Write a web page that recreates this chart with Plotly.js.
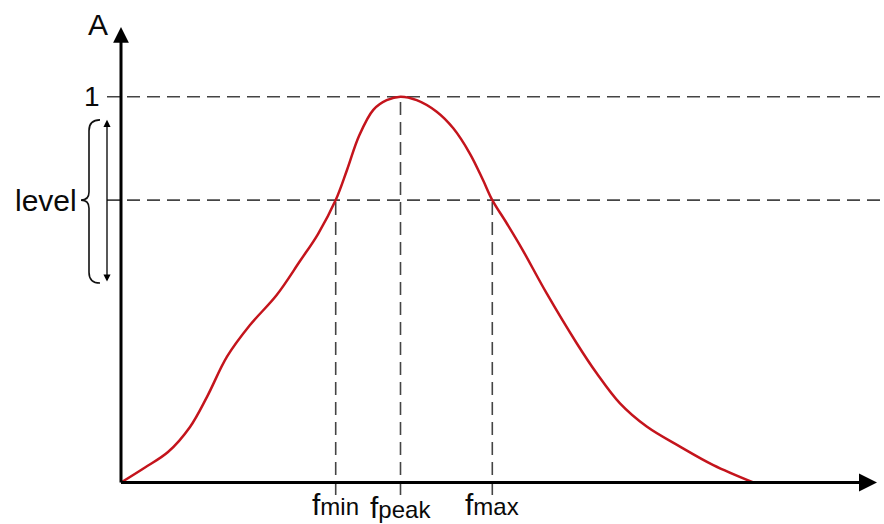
<!DOCTYPE html>
<html>
<head>
<meta charset="utf-8">
<script src="https://cdn.plot.ly/plotly-3.0.1.min.js"></script>
<style>html,body{margin:0;padding:0;background:#fff;}#chart{width:884px;height:524px;}</style>
</head>
<body>
<div id="chart"></div>
<script>
// ---- data ----
const freq = [0, 2.4, 4.7, 6.9, 8.6, 10.6, 12.9, 15.57, 17.9, 19.7, 21.47, 22.6, 23.8, 25.23, 26.57, 27.95, 29.57, 31.57, 33.23, 34.9, 36.2, 37.13, 38.57, 40.07, 42.57, 45.57, 47.57, 49.9, 52.57, 55.9, 59.23, 63.23];
const amp  = [0, 0.039, 0.079, 0.144, 0.222, 0.326, 0.408, 0.486, 0.574, 0.644, 0.732, 0.810, 0.898, 0.966, 0.991, 1.0, 0.991, 0.961, 0.918, 0.852, 0.784, 0.732, 0.672, 0.607, 0.490, 0.361, 0.283, 0.205, 0.145, 0.093, 0.045, 0];
const peakAmp = 1;
const level = 0.732;
const levelBand = [0.517, 0.94];
const fMin = 21.47, fPeak = 27.95, fMax = 37.13;
const xMarks = [fMin, fPeak, fMax];
const xMarkLabels = ['f<span style="font-size:24px">min</span>', 'f<span style="font-size:24px">peak</span>', 'f<span style="font-size:24px">max</span>'];
const yAxisLabel = 'A';
const yTickLabel = '1';
const levelLabel = 'level';

// ---- layout constants ----
const X_RANGE = [-12.1, 76.3];
const Y_RANGE = [-0.1076, 1.2506];
const X_AXIS_END = 75.6;
const Y_AXIS_END = 1.1807;
const DASH_LEFT = -1.4, DASH_RIGHT = 76.3, DASH_BOTTOM = -0.0324;
const dashLine = {color: '#444', width: 1.6, dash: '13px,7px'};
const FONT = 'Liberation Sans, Arial, sans-serif';
const TXT = '#0a0a0a';

const shapes = [];
[peakAmp, level].forEach(v => shapes.push({type:'line', xref:'x', yref:'y', x0:DASH_LEFT, x1:DASH_RIGHT, y0:v, y1:v, line:dashLine, layer:'below'}));
shapes.push({type:'line', xref:'x', yref:'y', x0:fMin, x1:fMin, y0:DASH_BOTTOM, y1:level, line:dashLine, layer:'below'});
shapes.push({type:'line', xref:'x', yref:'y', x0:fPeak, x1:fPeak, y0:DASH_BOTTOM, y1:peakAmp, line:dashLine, layer:'below'});
shapes.push({type:'line', xref:'x', yref:'y', x0:fMax, x1:fMax, y0:DASH_BOTTOM, y1:level, line:dashLine, layer:'below'});
// curly brace
const bx0 = -2.1, bsp = -3.2, btip = -4.0, br = 0.028, brt = 0.021;
const bTop = levelBand[1], bBot = levelBand[0];
const bracePath = `M ${bx0},${bTop} Q ${bsp},${bTop} ${bsp},${bTop - br} L ${bsp},${level + brt} Q ${bsp},${level} ${btip},${level} Q ${bsp},${level} ${bsp},${level - brt} L ${bsp},${bBot + br} Q ${bsp},${bBot} ${bx0},${bBot}`;
shapes.push({type:'path', xref:'x', yref:'y', path: bracePath, line:{color:'#111', width:1.6}});

const annotations = [];
annotations.push({x:X_AXIS_END, y:0, ax:-0.15, ay:0, xref:'x', yref:'y', axref:'x', ayref:'y', text:'', showarrow:true, arrowhead:2, arrowwidth:3, arrowsize:1.2, arrowcolor:'#000'});
annotations.push({x:0, y:Y_AXIS_END, ax:0, ay:-0.004, xref:'x', yref:'y', axref:'x', ayref:'y', text:'', showarrow:true, arrowhead:2, arrowwidth:3, arrowsize:1.05, arrowcolor:'#000'});
annotations.push({x:DASH_LEFT, y:levelBand[1], ax:DASH_LEFT, ay:levelBand[0], xref:'x', yref:'y', axref:'x', ayref:'y', text:'', showarrow:true, arrowside:'end+start', arrowhead:2, startarrowhead:2, arrowwidth:1.3, arrowsize:1.1, startarrowsize:1.1, arrowcolor:'#000'});
annotations.push({x:-2.35, y:1.188, xref:'x', yref:'y', text:yAxisLabel, showarrow:false, font:{family:FONT, size:30, color:TXT}});
annotations.push({x:-1.9, y:peakAmp, xref:'x', yref:'y', xanchor:'right', text:yTickLabel, showarrow:false, font:{family:FONT, size:28, color:TXT}});
annotations.push({x:-4.2, y:level, xref:'x', yref:'y', xanchor:'right', text:levelLabel, showarrow:false, font:{family:FONT, size:30, color:TXT}});
xMarks.forEach((f, i) => annotations.push({x:f, y: i === 1 ? -0.064 : -0.058, xref:'x', yref:'y', text:xMarkLabels[i], showarrow:false, font:{family:FONT, size:30, color:TXT}}));

const trace = {x: freq, y: amp, type:'scatter', mode:'lines', line:{color:'#c4141c', width:2.5, shape:'spline', smoothing:1}, hoverinfo:'skip'};

const layout = {
  width: 884, height: 524,
  margin: {l:0, r:0, t:0, b:0, pad:0},
  paper_bgcolor:'#fff', plot_bgcolor:'#fff',
  showlegend:false,
  xaxis:{range:X_RANGE, visible:false, fixedrange:true},
  yaxis:{range:Y_RANGE, visible:false, fixedrange:true},
  shapes: shapes,
  annotations: annotations
};
Plotly.newPlot('chart', [trace], layout, {displayModeBar:false, staticPlot:true});
</script>
</body>
</html>
